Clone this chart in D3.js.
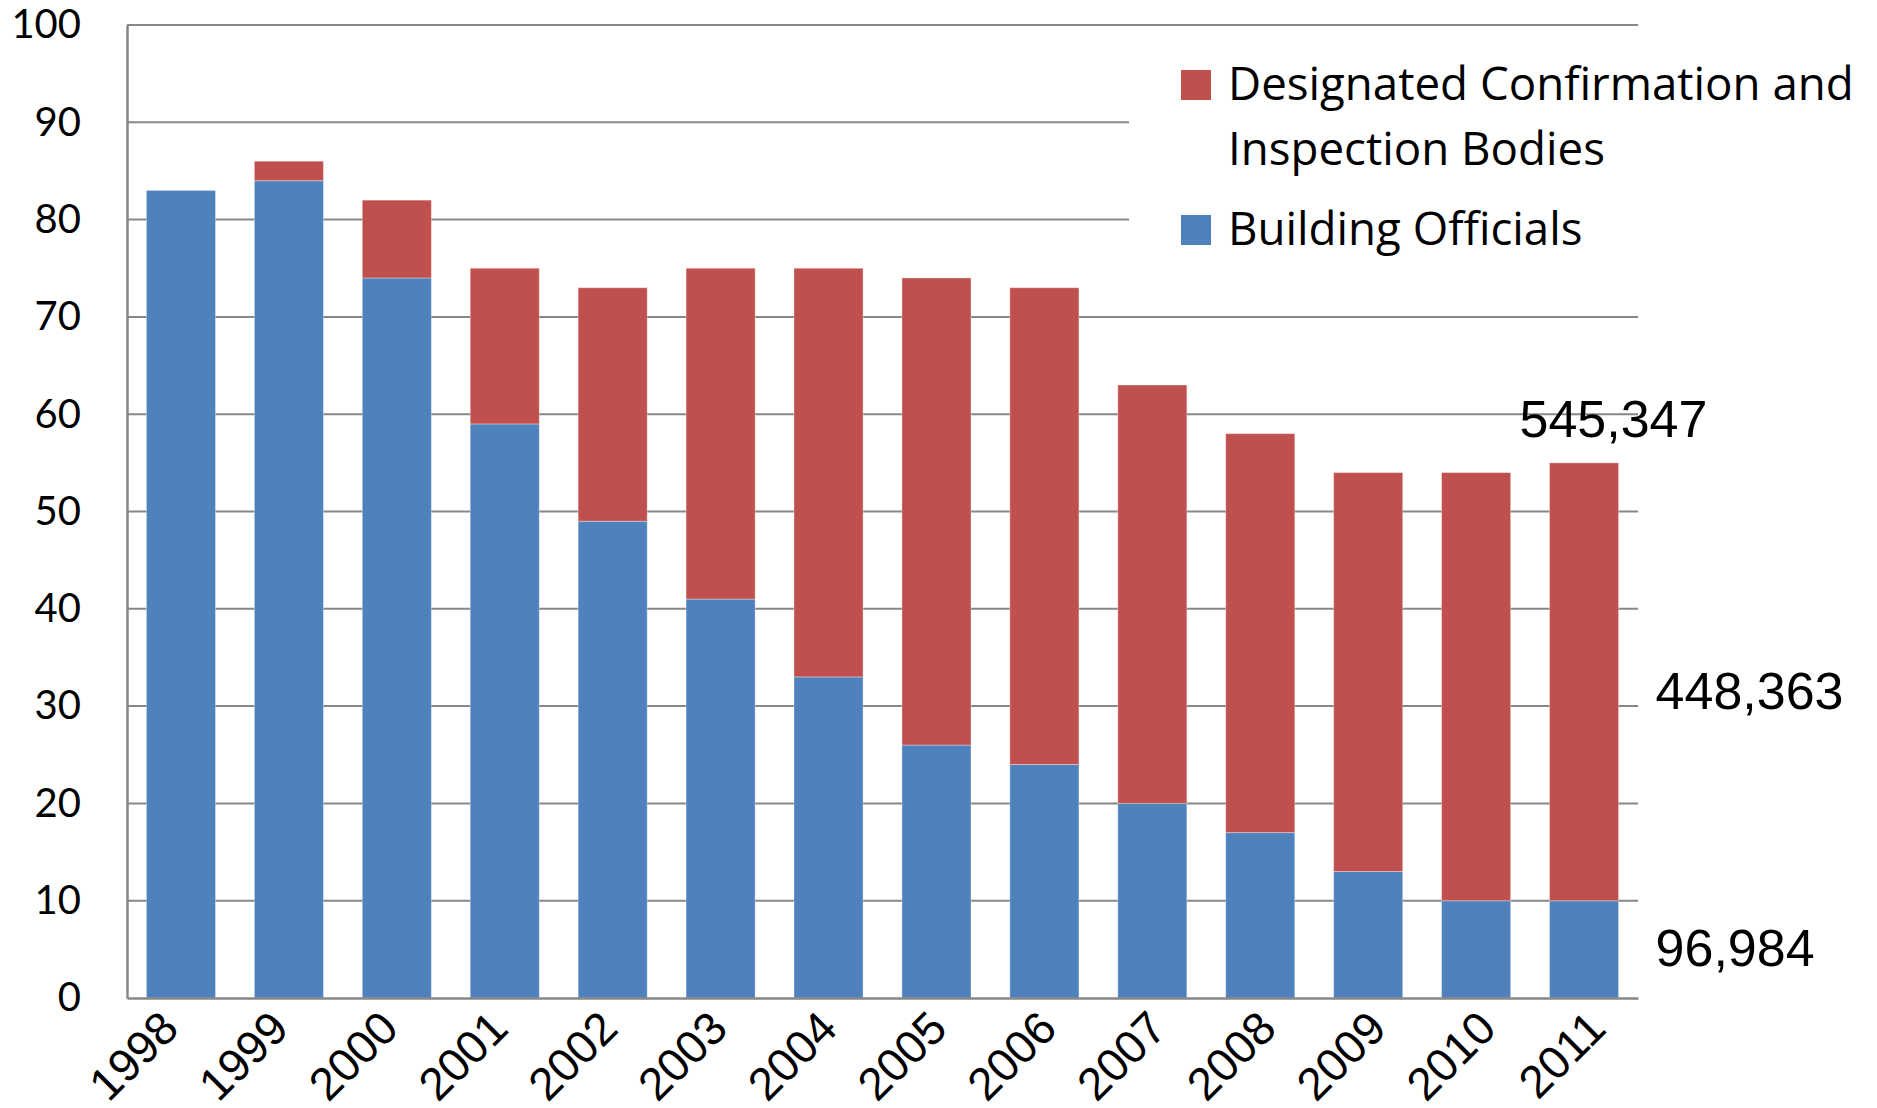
<!DOCTYPE html>
<html>
<head>
<meta charset="utf-8">
<script src="https://cdn.jsdelivr.net/npm/d3@7"></script>
<style>
  body { margin: 0; background: #fff; }
</style>
</head>
<body>
<div id="chart"></div>
<script>
// data
var years = ["1998", "1999", "2000", "2001", "2002", "2003", "2004", "2005", "2006", "2007", "2008", "2009", "2010", "2011"];
var officials = [83, 84, 74, 59, 49, 41, 33, 26, 24, 20, 17, 13, 10, 10];
var designated = [0, 2, 8, 16, 24, 34, 42, 48, 49, 43, 41, 41, 44, 45];
var yTicks = [0, 10, 20, 30, 40, 50, 60, 70, 80, 90, 100];
var seriesNames = ["Designated Confirmation and|Inspection Bodies", "Building Officials"];
var notes = { total: "545,347", designated: "448,363", officials: "96,984" };

var W = 1877, H = 1108;
var margin = { top: 25, right: 239, bottom: 110, left: 127 },
  width = W - margin.left - margin.right,
  height = H - margin.top - margin.bottom;

var blue = "#4f81bd", red = "#c0504d", grid = "#878787";
var labelFont = "Lato, 'Open Sans', sans-serif";
var legendFont = "'Open Sans', Lato, sans-serif";
var arialFont = "'Liberation Sans', Arial, sans-serif";

var rows = years.map(function(y, i) {
  return { year: y, officials: officials[i], designated: designated[i] };
});
var stack = d3.stack().keys(["officials", "designated"])(rows);

var x = d3.scaleBand().domain(years).range([0, width]).paddingInner(0.36).paddingOuter(0.18);
var y = d3.scaleLinear().domain([0, 100]).range([height, 0]);
// the rotated year labels drift a little to the right of the bars in the original
var labelShift = d3.scaleLinear().domain([0, years.length - 1]).range([0, 24]);

var svg = d3.select("#chart").append("svg")
  .attr("width", W)
  .attr("height", H);

var g = svg.append("g")
  .attr("transform", "translate(" + margin.left + "," + margin.top + ")");

// gridlines
g.append("g")
  .selectAll("line")
  .data(yTicks.filter(function(d) { return d > 0; }))
  .enter().append("line")
  .attr("x1", 0).attr("x2", width)
  .attr("y1", function(d) { return y(d); })
  .attr("y2", function(d) { return y(d); })
  .attr("stroke", grid)
  .attr("stroke-width", 2);

// bars
var colors = { officials: blue, designated: red };
g.selectAll("g.layer")
  .data(stack)
  .enter().append("g")
  .attr("class", "layer")
  .attr("fill", function(d) { return colors[d.key]; })
  .selectAll("rect")
  .data(function(d) { return d; })
  .enter().append("rect")
  .attr("x", function(d) { return x(d.data.year); })
  .attr("width", x.bandwidth())
  .attr("y", function(d) { return y(d[1]); })
  .attr("height", function(d) { return y(d[0]) - y(d[1]); })
  .attr("stroke", "#fff")
  .attr("stroke-opacity", 0.35)
  .attr("stroke-width", 1);

// axes
var yAxis = g.append("g")
  .call(d3.axisLeft(y).tickValues(yTicks).tickSize(0).tickPadding(46));
yAxis.select(".domain").attr("stroke", grid).attr("stroke-width", 2.5);
yAxis.selectAll("text")
  .attr("font-family", labelFont)
  .attr("font-size", 40)
  .attr("fill", "#000");

var xAxis = g.append("g")
  .attr("transform", "translate(0," + height + ")")
  .call(d3.axisBottom(x).tickSize(0));
xAxis.select(".domain").attr("stroke", grid).attr("stroke-width", 2.5);
xAxis.selectAll("text")
  .attr("font-family", arialFont)
  .attr("font-size", 46)
  .attr("fill", "#000")
  .attr("text-anchor", "end")
  .attr("dy", 0)
  .attr("y", 0)
  .attr("transform", function(d, i) {
    return "translate(" + labelShift(i) + ",33) rotate(-45)";
  });

// legend
var legend = svg.append("g").attr("transform", "translate(1129,40)");
legend.append("rect")
  .attr("width", 748).attr("height", 245)
  .attr("fill", "#fff");

var legendItems = [
  { name: seriesNames[0], color: red, y: 30 },
  { name: seriesNames[1], color: blue, y: 175 }
];
var legendSize = 44;
legendItems.forEach(function(item) {
  legend.append("rect")
    .attr("x", 52).attr("y", item.y)
    .attr("width", 30).attr("height", 30)
    .attr("fill", item.color);
  var t = legend.append("text")
    .attr("class", "legend-text")
    .attr("x", 99)
    .attr("y", item.y + 30)
    .attr("font-family", legendFont)
    .attr("font-size", legendSize)
    .attr("fill", "#000");
  item.name.split("|").forEach(function(line, k) {
    t.append("tspan")
      .attr("x", 99)
      .attr("dy", k === 0 ? 0 : 65)
      .text(line);
  });
});
// fit the first legend line to the width it has in the reference
var firstLine = legend.select("text.legend-text tspan").node();
var measured = firstLine.getComputedTextLength();
if (measured > 0) {
  var fitted = Math.max(38, Math.min(50, legendSize * 626 / measured));
  legend.selectAll("text.legend-text").attr("font-size", fitted);
}

// value notes next to the 2011 bar
var last = rows[rows.length - 1];
var lastX = x(last.year);
g.append("text")
  .attr("x", lastX - 30)
  .attr("y", y(last.officials + last.designated) - 26)
  .attr("font-family", arialFont)
  .attr("font-size", 52)
  .text(notes.total);
g.append("text")
  .attr("x", lastX + x.bandwidth() + 37)
  .attr("y", y(last.officials + last.designated / 2) + 27)
  .attr("font-family", arialFont)
  .attr("font-size", 52)
  .text(notes.designated);
g.append("text")
  .attr("x", lastX + x.bandwidth() + 37)
  .attr("y", y(last.officials / 2) + 17)
  .attr("font-family", arialFont)
  .attr("font-size", 52)
  .text(notes.officials);
</script>
</body>
</html>
